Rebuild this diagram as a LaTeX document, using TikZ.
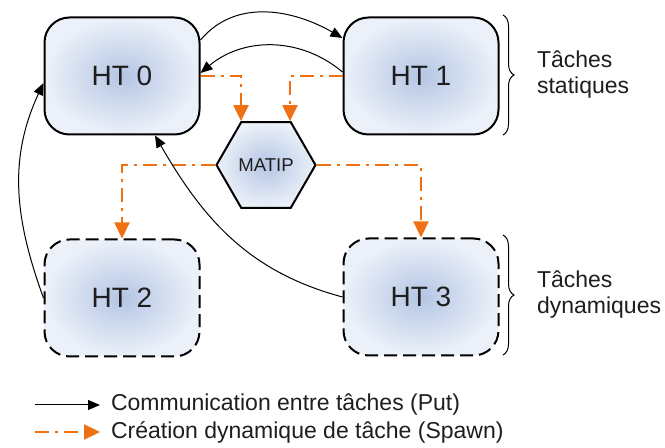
\documentclass[tikz,border=0pt]{standalone}
\usepackage{fontspec}
\setmainfont{Liberation Sans}
\usepackage{xcolor}
\usepackage{tikz}
\usetikzlibrary{arrows.meta,shapes.geometric,decorations.pathreplacing}

\definecolor{spawnorange}{RGB}{240,112,20}
\definecolor{taskinner}{RGB}{180,197,228}
\definecolor{taskouter}{RGB}{236,241,249}
\definecolor{inkgray}{RGB}{30,30,30}

\begin{document}
\begin{tikzpicture}[x=0.5pt, y=-0.5pt,
      font=\fontsize{14}{16}\selectfont, text=inkgray,
      task/.style={draw, rounded corners=12.5pt, line width=1pt,
                   minimum width=77.5pt, minimum height=58.5pt,
                   inner color=taskinner, outer color=taskouter},
      dyntask/.style={task, dash pattern=on 6.5pt off 3pt},
      hub/.style={draw, regular polygon, regular polygon sides=6,
                  minimum size=49.5pt, inner sep=0pt,
                  line width=1pt, inner color=taskinner, outer color=taskouter,
                  font=\fontsize{9.3}{11}\selectfont},
      put/.style={->, line width=0.5pt, >={Triangle[length=6pt,width=5pt]}},
      spawn/.style={->, draw=spawnorange, line width=1.1pt,
                    dash pattern=on 7pt off 3pt on 1.5pt off 3pt,
                    >={Triangle[length=8pt,width=7.5pt]}},
      side/.style={align=left, anchor=west, font=\fontsize{11.5}{13}\selectfont},
      keytext/.style={anchor=west, font=\fontsize{11.5}{13}\selectfont},
      grouping/.style={decorate, decoration={brace, amplitude=5.5pt}, line width=0.5pt}]

    \useasboundingbox (0,0) rectangle (665,448);

    % tasks
    \node[task] (ht0) at (122,76) {HT 0};
    \node[task] (ht1) at (421,76) {HT 1};
    \node[dyntask] (ht2) at (122,298) {HT 2};
    \node[dyntask] (ht3) at (421,297) {HT 3};
    \node[hub] (matip) at (266,165) {MATIP};

    % spawn links
    \draw[spawn] (ht0.east) -| ([xshift=-12.5pt]matip.north);
    \draw[spawn] (ht1.west) -| ([xshift=12pt]matip.north);
    \draw[spawn] (matip.west) -| (ht2.north);
    \draw[spawn] (matip.east) -| (ht3.north);

    % put links
    \draw[put] ([yshift=18pt]ht0.east) to[out=50, in=150] ([yshift=19pt]ht1.west);
    \draw[put] ([yshift=2pt]ht1.west) to[out=140, in=40] ([yshift=1.5pt]ht0.east);
    \draw[put] (ht3.west) to[out=165, in=-60] ([xshift=16.5pt]ht0.south);
    \draw[put] (ht2.west) to[out=110, in=245] ([yshift=-3.5pt]ht0.west);

    % groups
    \draw[grouping] (503,15) -- (503,135);
    \node[side] (stat) at (530,75) {Tâches\\statiques};
    \draw[grouping] (503,235) -- (503,355);
    \node[side] (dyn) at (530,295) {Tâches\\dynamiques};

    % legend
    \coordinate (k0) at (35,405);
    \coordinate (k1) at (100,405);
    \draw[put] (k0) -- (k1);
    \node[keytext] (kput) at (104,405) {Communication entre tâches (Put)};
    \coordinate (k2) at (35,432);
    \coordinate (k3) at (100,432);
    \draw[spawn] (k2) -- (k3);
    \node[keytext] (kspawn) at (104,432) {Création dynamique de tâche (Spawn)};
  \end{tikzpicture}
\end{document}
